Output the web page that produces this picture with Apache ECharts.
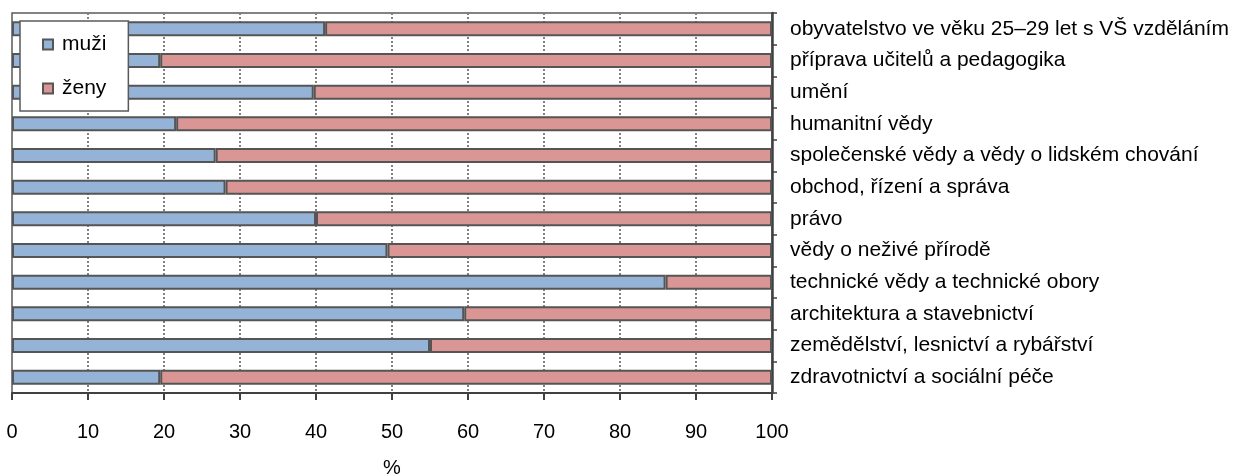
<!DOCTYPE html>
<html>
<head>
<meta charset="utf-8">
<script src="https://cdn.jsdelivr.net/npm/echarts@6/dist/echarts.min.js"></script>
<style>
html,body{margin:0;padding:0;background:#fff;}
#chart{width:1246px;height:475px;}
</style>
</head>
<body>
<div id="chart"></div>
<script>
const categories = [
  "obyvatelstvo ve věku 25–29 let s VŠ vzděláním",
  "příprava učitelů a pedagogika",
  "umění",
  "humanitní vědy",
  "společenské vědy a vědy o lidském chování",
  "obchod, řízení a správa",
  "právo",
  "vědy o neživé přírodě",
  "technické vědy a technické obory",
  "architektura a stavebnictví",
  "zemědělství, lesnictví a rybářství",
  "zdravotnictví a sociální péče"
];
const muzi = [41.2, 19.5, 39.7, 21.6, 26.8, 28.1, 40.0, 49.4, 86.0, 59.5, 55.0, 19.5];
const zeny = [58.8, 80.5, 60.3, 78.4, 73.2, 71.9, 60.0, 50.6, 14.0, 40.5, 45.0, 80.5];
const xTicks = { min: 0, max: 100, interval: 10 };
const seriesNames = ["muži", "ženy"];

const FONT = "Liberation Sans, Arial, sans-serif";
const chart = echarts.init(document.getElementById('chart'), null, { renderer: 'canvas' });
chart.setOption({
  animation: false,
  backgroundColor: '#fff',
  textStyle: { fontFamily: FONT },
  grid: {
    left: 12, right: 474, top: 13, bottom: 82,
    outerBoundsMode: 'none',
    containLabel: false,
    show: true, borderColor: '#595959', borderWidth: 1.5, backgroundColor: '#fff'
  },
  legend: {
    orient: 'vertical',
    left: 20, top: 21,
    padding: [13, 22, 12, 22],
    itemWidth: 10, itemHeight: 10, itemGap: 23,
    backgroundColor: '#fff',
    borderColor: '#595959', borderWidth: 1.5,
    borderRadius: 0,
    icon: 'rect',
    textStyle: { fontFamily: FONT, fontSize: 21, color: '#000', padding: [0, 0, 0, 4] },
    data: seriesNames
  },
  xAxis: {
    type: 'value',
    min: xTicks.min, max: xTicks.max, interval: xTicks.interval,
    name: '%',
    nameLocation: 'middle',
    nameGap: 65,
    nameTextStyle: { fontFamily: FONT, fontSize: 20, color: '#000' },
    axisLine: { show: true, onZero: false, lineStyle: { color: '#404040', width: 2 } },
    axisTick: { show: true, length: 7, lineStyle: { color: '#404040', width: 2 } },
    axisLabel: { fontFamily: FONT, fontSize: 20, color: '#000', margin: 29 },
    splitLine: {
      show: true, showMinLine: false, showMaxLine: false,
      lineStyle: { color: '#808080', width: 2, type: [2, 2] }
    }
  },
  yAxis: {
    type: 'category',
    data: categories,
    inverse: true,
    position: 'right',
    axisLine: { show: true, onZero: false, lineStyle: { color: '#404040', width: 2.5 } },
    axisTick: { show: true, inside: false, length: 5, lineStyle: { color: '#404040', width: 1.5 } },
    axisLabel: { fontFamily: FONT, fontSize: 21, color: '#000', margin: 18, align: 'left' },
    splitLine: { show: false }
  },
  series: [
    {
      name: seriesNames[0], type: 'bar', stack: 'total', data: muzi, barWidth: 15,
      itemStyle: { color: '#95B3D7', borderColor: '#555555', borderWidth: 2 }
    },
    {
      name: seriesNames[1], type: 'bar', stack: 'total', data: zeny, barWidth: 15,
      itemStyle: { color: '#D99694', borderColor: '#555555', borderWidth: 2 }
    }
  ]
});
</script>
</body>
</html>
